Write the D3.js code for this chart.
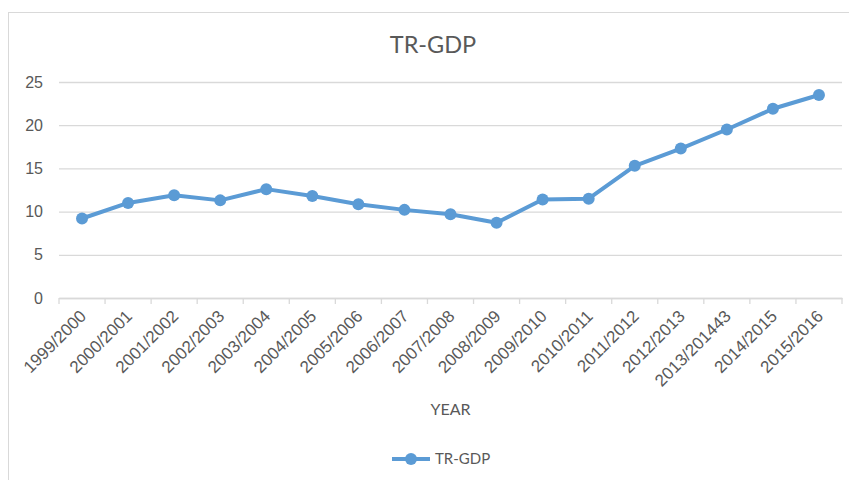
<!DOCTYPE html>
<html>
<head>
<meta charset="utf-8">
<script src="https://cdn.jsdelivr.net/npm/d3@7"></script>
<style>
  body { margin: 0; background: #fff; }
  svg { display: block; font-family: Lato, "Open Sans", sans-serif; }
  .axis text { fill: #595959; }
</style>
</head>
<body>
<div id="chart"></div>
<script>
var years = ["1999/2000", "2000/2001", "2001/2002", "2002/2003", "2003/2004", "2004/2005",
    "2005/2006", "2006/2007", "2007/2008", "2008/2009", "2009/2010", "2010/2011",
    "2011/2012", "2012/2013", "2013/201443", "2014/2015", "2015/2016"];
var trGdp = [9.2, 11.0, 11.9, 11.3, 12.6, 11.8, 10.85, 10.2, 9.7, 8.7, 11.4, 11.5,
    15.3, 17.3, 19.5, 21.9, 23.5];
var yTicks = [0, 5, 10, 15, 20, 25];

var blue = "#5b9bd5", grid = "#d9d9d9", textGrey = "#595959";

var margin = {top: 82, right: 7, bottom: 182, left: 59}
    , width = 849 - margin.left - margin.right
    , height = 480 - margin.top - margin.bottom;

var svg = d3.select("#chart").append("svg")
    .attr("width", 849)
    .attr("height", 480);

// chart frame
svg.append("rect")
    .attr("x", 8.5).attr("y", 12.5)
    .attr("width", 860).attr("height", 500)
    .attr("fill", "none")
    .attr("stroke", grid);

svg.append("text")
    .attr("x", 433)
    .attr("y", 53)
    .attr("text-anchor", "middle")
    .attr("fill", textGrey)
    .style("font-size", "23.5px")
    .text("TR-GDP");

var main = svg.append("g")
    .attr("transform", "translate(" + margin.left + "," + margin.top + ")");

var x = d3.scaleBand().domain(years).range([0, width]);
var y = d3.scaleLinear().domain([0, 25]).range([height, 0]);

// gridlines + y labels
var yAxis = main.append("g")
    .attr("class", "axis")
    .call(d3.axisLeft(y).tickValues(yTicks).tickSize(-width).tickPadding(16));
yAxis.select(".domain").remove();
yAxis.selectAll("line").attr("stroke", grid).attr("stroke-width", 1.3);
yAxis.selectAll("text").style("font-size", "16px");

// x axis with boundary ticks
var xAxis = main.append("g")
    .attr("class", "axis")
    .attr("transform", "translate(0," + height + ")")
    .call(d3.axisBottom(x).tickSize(0));
xAxis.select(".domain").attr("stroke", grid).attr("stroke-width", 1.3);
xAxis.selectAll("text")
    .style("font-size", "17px")
    .attr("text-anchor", "end")
    .attr("y", 0)
    .attr("dy", "0.35em")
    .attr("transform", "translate(1,15) rotate(-45)");

var bounds = years.map(function (d) { return x(d); }).concat([width]);
main.append("g").selectAll("line")
    .data(bounds)
    .enter().append("line")
    .attr("x1", function (d) { return d; })
    .attr("x2", function (d) { return d; })
    .attr("y1", height)
    .attr("y2", height + 6)
    .attr("stroke", grid)
    .attr("stroke-width", 1.3);

var line = d3.line()
    .x(function (d, i) { return x(years[i]) + x.bandwidth() / 2; })
    .y(function (d) { return y(d); });

main.append("path")
    .datum(trGdp)
    .attr("d", line)
    .attr("fill", "none")
    .attr("stroke", blue)
    .attr("stroke-width", 4)
    .attr("stroke-linejoin", "round");

main.selectAll(".dot")
    .data(trGdp)
    .enter().append("circle")
    .attr("class", "dot")
    .attr("cx", function (d, i) { return x(years[i]) + x.bandwidth() / 2; })
    .attr("cy", function (d) { return y(d); })
    .attr("r", 6)
    .attr("fill", blue);

// axis title
svg.append("text")
    .attr("x", margin.left + width / 2)
    .attr("y", 415)
    .attr("text-anchor", "middle")
    .attr("fill", textGrey)
    .style("font-size", "16px")
    .text("YEAR");

// legend
var legend = svg.append("g").attr("transform", "translate(392,459)");
legend.append("line")
    .attr("x1", 0).attr("x2", 38)
    .attr("stroke", blue).attr("stroke-width", 4);
legend.append("circle")
    .attr("cx", 19).attr("r", 6).attr("fill", blue);
legend.append("text")
    .attr("x", 43).attr("y", 5)
    .attr("fill", textGrey)
    .style("font-size", "15px")
    .text("TR-GDP");
</script>
</body>
</html>
